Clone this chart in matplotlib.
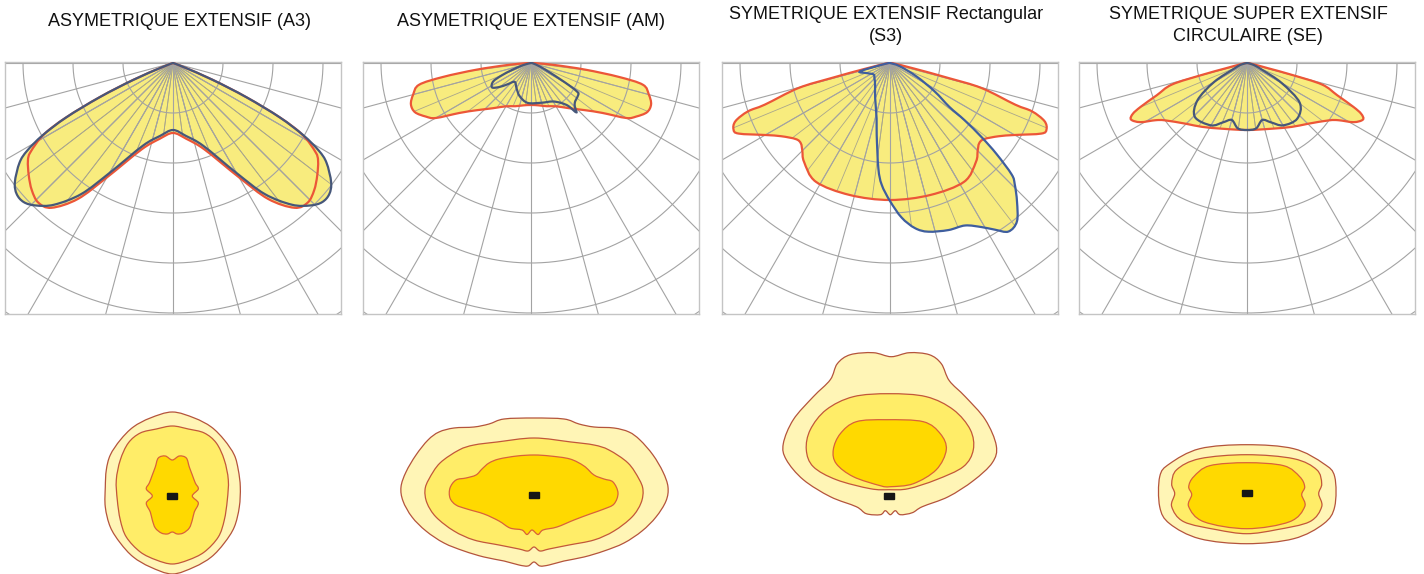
import numpy as np
import matplotlib
matplotlib.use("Agg")
import matplotlib.pyplot as plt
from matplotlib.path import Path
from matplotlib.patches import PathPatch, Rectangle

plt.rcParams['font.family'] = ['Liberation Sans', 'DejaVu Sans']

titles = [
    "ASYMETRIQUE EXTENSIF (A3)",
    "ASYMETRIQUE EXTENSIF (AM)",
    "SYMETRIQUE EXTENSIF Rectangular\n(S3)",
    "SYMETRIQUE SUPER EXTENSIF\nCIRCULAIRE (SE)",
]

# photometric curves: angle from nadir (deg, + = right), intensity (ring step = 50)
a3_red_deg = [-90, -69, -67, -65, -63, -61, -58, -56, -52, -48, -44, -40, -35, -30, -20, -10, 0,
              10, 20, 30, 35, 40, 44, 48, 52, 56, 58, 61, 63, 65, 67, 69, 90]
a3_red_r = [0, 12, 43, 81, 120, 148, 168, 175, 183, 190, 194, 189, 166, 132, 92, 77, 70,
            77, 92, 132, 166, 189, 194, 190, 183, 175, 168, 148, 120, 81, 43, 12, 0]
a3_blue_deg = [-90, -69, -67, -65, -63, -61, -59, -57, -53, -50, -47, -44, -40, -35, -30, -20, -10, 0,
               10, 20, 30, 35, 40, 44, 47, 50, 53, 57, 59, 61, 63, 65, 67, 69, 90]
a3_blue_r = [0, 12, 43, 81, 120, 149, 170, 183, 198, 204, 204, 198, 185, 160, 127, 88, 74, 67,
             74, 88, 127, 160, 185, 198, 204, 204, 198, 183, 170, 149, 120, 81, 43, 12, 0]

am_red_deg = [-90, -88, -85, -83, -81, -79, -75, -71, -67, -63, -60, -55, -49, -40, -30, -20, -10, 0,
              10, 20, 30, 40, 49, 55, 60, 63, 67, 71, 75, 79, 81, 83, 85, 88, 90]
am_red_r = [0, 5, 25, 55, 89, 114, 122, 127, 126, 118, 110, 87, 72, 59, 50, 46, 43, 42,
            43, 46, 50, 59, 72, 87, 110, 118, 126, 127, 122, 114, 89, 55, 25, 5, 0]
am_blue_deg = [-90, -75, -70, -67, -64, -58, -53, -48, -41, -30, -19, -5, 14, 29, 37, 41, 42.5, 45,
               48, 51, 56, 58, 59.5, 61, 63, 68, 80, 90]
am_blue_r = [0, 8, 20, 32, 42, 46, 40, 32, 25, 29, 35, 40, 41, 44, 50, 57, 67, 62,
             59, 58, 57, 55, 45, 33, 22, 10, 2, 0]

s3_red_deg = [-90, -85, -77, -75.6, -74.7, -71.6, -71.2, -69.4, -67, -65, -60, -56, -51, -48, -45, -41,
              -32, -17, 0, 17, 32, 41, 45, 48, 51, 56, 60, 65, 67, 69.4, 71.2, 71.6, 74.7, 75.6, 77, 85, 90]
s3_red_r = [0, 3, 25, 60, 95, 132, 150, 165, 170, 167, 144, 131, 121, 120, 124, 131,
            140, 138, 137, 138, 140, 131, 124, 120, 121, 131, 144, 167, 170, 165, 150, 132, 95, 60, 25, 3, 0]
s3_blue_deg = [-90, -80, -74.5, -66, -55, -45, -35, -23, -13.6, -10.5, -6.3, -3.9, 0, 4.3, 8.6, 12.8,
               19.3, 24.8, 29.2, 32.2, 35.1, 38.7, 42.5, 45.8, 47.5, 49.5, 51, 52.5, 53.5, 57.5, 63, 72, 90]
s3_blue_r = [0, 5, 31, 25, 20, 22, 26, 38, 57, 73, 106, 122, 138, 155, 167, 173,
             177, 179, 188, 197, 206, 203, 188, 174, 165, 140, 118, 94, 74, 53, 30, 10, 0]

se_red_deg = [-90, -80, -76, -75.2, -74, -70.3, -67.6, -66, -64, -61, -58, -55, -45, -35, -20, 0,
              20, 35, 45, 55, 58, 61, 64, 66, 67.6, 70.3, 74, 75.2, 76, 80, 90]
se_red_r = [0, 5, 22, 46, 78, 96, 115, 125, 129, 122, 108, 100, 86, 78, 70, 67,
            70, 78, 86, 100, 108, 122, 129, 125, 115, 96, 78, 46, 22, 5, 0]
se_blue_deg = [-90, -75, -67, -60, -53, -44, -30, -22, -15, -8, 0, 8, 15, 22, 30, 42, 53, 60, 66, 75, 90]
se_blue_r = [0, 6, 13, 38, 62, 75, 72, 64, 59, 66, 67, 66, 59, 64, 72, 75, 66, 40, 16, 6, 0]

# isolux contours (m), around the luminaire
a3_outer_x = [0, -2.2, -3.9, -5.2, -6.2, -6.6, -6.7, -6.7, -6.2, -5.2, -3.9, -2.2,
              0, 2.2, 3.9, 5.2, 6.2, 6.7, 6.8, 6.6, 6.2, 5.2, 3.9, 2.2]
a3_outer_y = [8.4, 7.8, 6.9, 5.6, 4.1, 2.6, 0.9, -1.1, -3.1, -4.7, -6.1, -7.1,
              -7.8, -7.1, -6.1, -4.7, -3.1, -1.1, 0.9, 2.6, 4.1, 5.6, 6.9, 7.8]
a3_mid_x = [0, -1.6, -3.2, -4.4, -5.2, -5.6, -5.5, -5.2, -4.6, -3.2, -1.6,
            0, 1.6, 3.2, 4.6, 5.2, 5.5, 5.6, 5.2, 4.4, 3.2, 1.6]
a3_mid_y = [7.0, 6.7, 6.3, 5.3, 3.6, 1.6, -0.4, -2.4, -4.1, -5.6, -6.4,
            -6.8, -6.4, -5.6, -4.1, -2.4, -0.4, 1.6, 3.6, 5.3, 6.3, 6.7]
a3_inner_x = [0, -0.7, -1.4, -1.7, -2.0, -2.3, -2.6, -2.0, -2.6, -2.2, -2.0, -1.7, -1.1, -0.5,
              0, 0.5, 1.1, 1.7, 2.0, 2.2, 2.6, 2.0, 2.6, 2.3, 2.0, 1.7, 1.4, 0.7]
a3_inner_y = [3.6, 4.0, 3.8, 2.9, 2.1, 1.3, 0.7, 0, -0.7, -1.6, -2.4, -3.2, -3.7, -3.8,
              -3.6, -3.8, -3.7, -3.2, -2.4, -1.6, -0.7, 0, 0.7, 1.3, 2.1, 2.9, 3.8, 4.0]

am_outer_x = [0, -3.0, -4.5, -6.0, -8.0, -9.5, -10.6, -11.8, -12.8, -13.3, -13.1, -12.2, -10.8, -9.0,
              -7.0, -5.0, -3.0, -1.5, -0.6, 0, 0.6, 1.5, 3.0, 5.0, 7.0, 9.0, 10.8, 12.2, 13.2, 13.4,
              12.9, 11.9, 10.6, 9.5, 8.0, 6.0, 4.5, 3.0]
am_outer_y = [7.7, 7.6, 7.1, 6.8, 6.7, 6.3, 5.5, 4.0, 2.3, 0.8, -0.6, -2.2, -3.6, -4.8,
              -5.6, -6.2, -6.6, -7.0, -7.1, -6.7, -7.1, -7.0, -6.6, -6.2, -5.6, -4.8, -3.6, -2.2, -0.6, 0.8,
              2.3, 4.0, 5.5, 6.3, 6.7, 6.8, 7.1, 7.6]
am_mid_x = [0, -3.7, -6.0, -7.5, -9.4, -10.5, -10.9, -10.7, -9.8, -8.0, -6.0, -3.5, -1.5, -0.6,
            0, 0.6, 1.5, 3.5, 6.0, 8.0, 9.8, 10.7, 10.9, 10.5, 9.4, 7.5, 6.0, 3.7]
am_mid_y = [5.7, 5.3, 5.0, 4.5, 3.2, 1.6, 0.5, -0.8, -2.2, -3.6, -4.5, -5.0, -5.4, -5.6,
            -5.2, -5.6, -5.4, -5.0, -4.5, -3.6, -2.2, -0.8, 0.5, 1.6, 3.2, 4.5, 5.0, 5.3]
am_inner_x = [0, -1.7, -3.5, -4.5, -5.2, -5.8, -6.8, -7.8, -8.4, -8.4, -7.8, -6.7, -5.0, -3.5, -2.4, -1.2,
              -0.7, -0.2, 0.4, 0.9, 2.3, 4.0, 5.6, 7.0, 8.0, 8.4, 7.9, 7.0, 6.0, 5.0, 3.6, 1.6]
am_inner_y = [4.0, 3.9, 3.6, 3.2, 2.6, 2.0, 1.7, 1.5, 0.7, -0.3, -1.0, -1.4, -1.9, -2.6, -3.3, -3.5,
              -3.95, -3.5, -3.95, -3.5, -3.2, -2.5, -1.9, -1.4, -0.9, 0.2, 1.3, 1.6, 2.0, 2.9, 3.6, 3.9]

s3_outer_x = [0.2, -1.6, -3.9, -5.2, -5.9, -7.6, -9.6, -10.6, -10.3, -8.6, -5.9, -3.3, -2.3, -0.9, -0.4,
              0.1, 0.6, 1.1, 2.3, 3.3, 5.9, 8.4, 10.3, 10.7, 9.6, 7.6, 6.0, 5.2, 4.0, 2.0]
s3_outer_y = [13.9, 14.3, 14.1, 13.2, 11.6, 9.9, 7.6, 5.2, 3.6, 1.6, -0.1, -1.1, -1.8, -1.9, -1.5,
              -1.9, -1.5, -1.9, -1.7, -1.1, -0.1, 1.5, 3.3, 5.0, 7.6, 9.9, 11.5, 13.2, 14.1, 14.3]
s3_mid_x = [0, -3.6, -6.3, -7.9, -8.3, -7.6, -5.3, -1.9, 0, 1.9, 4.7, 7.4, 8.4, 8.1, 6.4, 3.7]
s3_mid_y = [10.2, 9.9, 8.6, 6.6, 4.6, 2.9, 1.6, 0.7, 0.6, 0.7, 1.6, 2.9, 4.6, 6.6, 8.6, 9.9]
s3_inner_x = [-0.3, -3.3, -4.9, -5.6, -5.3, -3.6, -0.9, 0.1, 2.4, 4.7, 5.7, 5.1, 3.4]
s3_inner_y = [7.6, 7.4, 6.2, 4.6, 3.2, 1.9, 1.0, 0.9, 1.2, 2.6, 4.6, 6.2, 7.4]

se_outer_x = [0, -4.7, -7.7, -8.7, -8.7, -7.7, -4.7, 0, 4.7, 7.7, 8.8, 8.8, 7.7, 4.7]
se_outer_y = [4.8, 4.4, 2.9, 1.6, -1.4, -3.1, -4.6, -5.1, -4.6, -3.1, -1.4, 1.6, 2.9, 4.4]
se_mid_x = [0, -4.7, -7.0, -7.5, -7.2, -7.5, -6.3, -3.0, 0, 3.0, 6.3, 7.5, 7.2, 7.5, 7.0, 4.7]
se_mid_y = [3.8, 3.4, 2.3, 0.9, -0.1, -1.4, -2.9, -3.7, -4.1, -3.7, -2.9, -1.4, -0.1, 0.9, 2.3, 3.4]
se_inner_x = [0, -3.7, -5.3, -5.8, -5.5, -5.8, -4.3, 0, 4.3, 5.8, 5.5, 5.8, 5.3, 3.7]
se_inner_y = [3.0, 2.7, 1.6, 0.6, -0.2, -1.4, -2.9, -3.6, -2.9, -1.4, -0.2, 0.6, 1.6, 2.7]

curves = [
    (a3_red_deg, a3_red_r, a3_blue_deg, a3_blue_r),
    (am_red_deg, am_red_r, am_blue_deg, am_blue_r),
    (s3_red_deg, s3_red_r, s3_blue_deg, s3_blue_r),
    (se_red_deg, se_red_r, se_blue_deg, se_blue_r),
]
isolux = [
    [(a3_outer_x, a3_outer_y), (a3_mid_x, a3_mid_y), (a3_inner_x, a3_inner_y)],
    [(am_outer_x, am_outer_y), (am_mid_x, am_mid_y), (am_inner_x, am_inner_y)],
    [(s3_outer_x, s3_outer_y), (s3_mid_x, s3_mid_y), (s3_inner_x, s3_inner_y)],
    [(se_outer_x, se_outer_y), (se_mid_x, se_mid_y), (se_inner_x, se_inner_y)],
]

# layout (pixels)
W, H = 1424, 574
panel_left = [5, 363, 722, 1079]
panel_w, panel_top, panel_h = 336, 62, 252
title_x = [180, 531, 886, 1248]
lum_pos = [(172.3, 496), (534, 495), (889.3, 495.7), (1246.7, 492.7)]
px_per_m = 10

fill_yellow = '#f8ec7e'
red = '#ec5638'
blue_cols = ['#46577a', '#46577a', '#3f5e9e', '#46577a']
grid_col = '#a3a3a3'
iso_fill = ['#fff5b6', '#ffed68', '#ffd900']
iso_edge = ['#b4543c', '#c2573a', '#d9623a']


def smooth_path(x, y, closed=True):
    pts = np.column_stack([x, y]).astype(float)
    n = len(pts)
    verts = [pts[0]]
    codes = [Path.MOVETO]
    nseg = n if closed else n - 1
    for i in range(nseg):
        if closed:
            p0, p1, p2, p3 = pts[(i - 1) % n], pts[i], pts[(i + 1) % n], pts[(i + 2) % n]
        else:
            p0, p1 = pts[max(i - 1, 0)], pts[i]
            p2, p3 = pts[i + 1], pts[min(i + 2, n - 1)]
        verts += [p1 + (p2 - p0) / 6.0, p2 - (p3 - p1) / 6.0, p2]
        codes += [Path.CURVE4] * 3
    verts.append(pts[0])
    codes.append(Path.CLOSEPOLY)
    return Path(verts, codes)


def polar_xy(deg, r):
    t = np.radians(deg)
    r = np.asarray(r, dtype=float)
    return r * np.sin(t), -r * np.cos(t)


fig = plt.figure(figsize=(W / 100, H / 100), dpi=100)

for i in range(4):
    left = panel_left[i]
    ax = fig.add_axes([left / W, 1 - (panel_top + panel_h) / H, panel_w / W, panel_h / H])
    ax.set_xlim(-panel_w / 2, panel_w / 2)
    ax.set_ylim(-panel_h + 1, 1)
    ax.set_xticks([])
    ax.set_yticks([])
    for s in ax.spines.values():
        s.set_color('#c4c4c4')
        s.set_linewidth(1.0)

    red_deg, red_r, blue_deg, blue_r = curves[i]
    rx, ry = polar_xy(red_deg, red_r)
    bx, by = polar_xy(blue_deg, blue_r)
    red_path = smooth_path(rx, ry, closed=False)
    blue_path = smooth_path(bx, by, closed=False)

    fills = []
    for p in (red_path, blue_path):
        patch = PathPatch(p, facecolor=fill_yellow, edgecolor='none', zorder=1)
        ax.add_patch(patch)
        fills.append(patch)

    # fine spokes, only visible inside the light distribution
    for patch in fills:
        for a in np.arange(-90, 90.1, 7.5):
            sx, sy = polar_xy([a, a], [0, 400])
            ln, = ax.plot(sx, sy, color='#a9a68c', lw=0.6, zorder=1.5)
            ln.set_clip_path(patch)

    th = np.linspace(0, 2 * np.pi, 361)
    for rr in range(50, 351, 50):
        ax.plot(rr * np.cos(th), rr * np.sin(th), color=grid_col, lw=0.8, zorder=2)
    for a in range(-90, 91, 15):
        sx, sy = polar_xy([a, a], [0, 400])
        ax.plot(sx, sy, color=grid_col, lw=0.8, zorder=2)

    ax.add_patch(PathPatch(red_path, facecolor='none', edgecolor=red, lw=1.6, zorder=3))
    ax.add_patch(PathPatch(blue_path, facecolor='none', edgecolor=blue_cols[i], lw=1.6, zorder=4))

    tx = title_x[i]
    ty = 22 if '\n' not in titles[i] else 25.5
    fig.text(tx / W, 1 - ty / H, titles[i], ha='center', va='center', fontsize=13,
             linespacing=1.45, color='#111111')

    # isolux diagram
    lx, ly = lum_pos[i]
    bx0 = fig.add_axes([left / W, 0, panel_w / W, (H - 330) / H])
    bx0.set_xlim((left - lx) / px_per_m, (left + panel_w - lx) / px_per_m)
    bx0.set_ylim((ly - H) / px_per_m, (ly - 330) / px_per_m)
    bx0.axis('off')
    for k, (cx, cy) in enumerate(isolux[i]):
        bx0.add_patch(PathPatch(smooth_path(cx, cy), facecolor=iso_fill[k],
                                edgecolor=iso_edge[k], lw=0.9, zorder=1 + k))
    bx0.add_patch(Rectangle((-0.5, -0.3), 1.0, 0.6, color='#161616', zorder=5))

fig.savefig('out.png', dpi=100)
